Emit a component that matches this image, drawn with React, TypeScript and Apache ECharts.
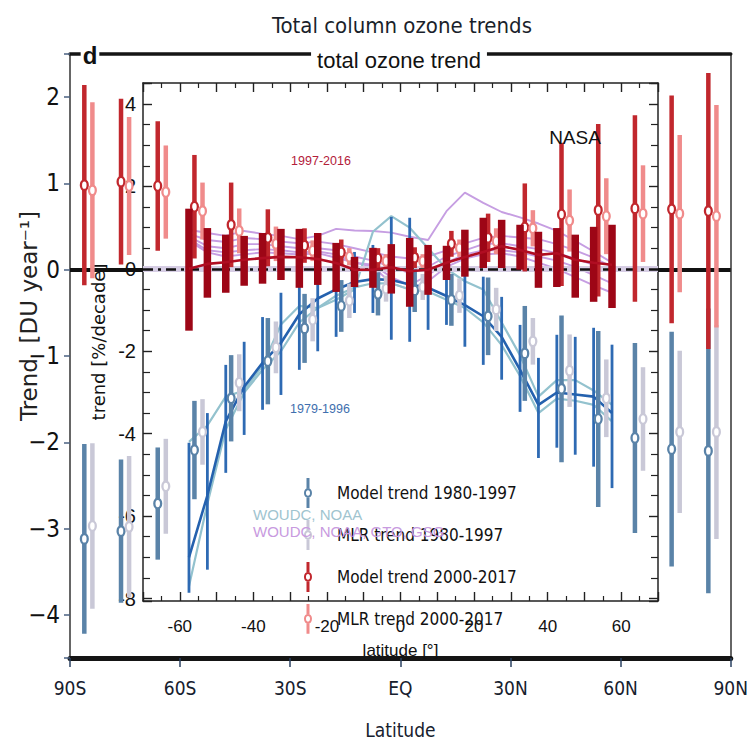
import React, { useEffect, useRef } from "react";
import * as echarts from "echarts";

// ---------- Outer chart data (DU / year) ----------
const OUTER_LATS = [-85, -75, -65, -55, -45, -35, -25, -15, -5, 5, 15, 25, 35, 45, 55, 65, 75, 85];
const MODEL_8097 = [-3.12, -3.03, -2.71, -2.09, -1.49, -1.06, -0.68, -0.42, -0.28, -0.24, -0.35, -0.54, -0.97, -1.38, -1.73, -1.95, -2.08, -2.1];
const MODEL_8097_ERR = [1.1, 0.83, 0.65, 0.57, 0.5, 0.5, 0.4, 0.3, 0.25, 0.25, 0.3, 0.45, 0.55, 0.85, 1.02, 1.1, 1.36, 1.65];
const MLR_8097 = [-2.97, -2.98, -2.51, -1.88, -1.31, -0.9, -0.58, -0.36, -0.22, -0.2, -0.3, -0.46, -0.83, -1.17, -1.49, -1.73, -1.88, -1.88];
const MLR_8097_ERR = [0.96, 0.82, 0.55, 0.38, 0.33, 0.3, 0.25, 0.2, 0.15, 0.15, 0.2, 0.25, 0.27, 0.42, 0.45, 0.6, 0.94, 1.24];
const MODEL_0017 = [0.98, 1.02, 0.97, 0.73, 0.52, 0.37, 0.28, 0.2, 0.13, 0.14, 0.3, 0.37, 0.49, 0.64, 0.69, 0.71, 0.7, 0.68];
const MODEL_0017_ERR = [1.16, 0.96, 0.75, 0.6, 0.49, 0.33, 0.2, 0.15, 0.12, 0.12, 0.15, 0.28, 0.51, 0.83, 1.0, 1.08, 1.32, 1.6];
const MLR_0017 = [0.92, 0.97, 0.9, 0.68, 0.45, 0.3, 0.22, 0.15, 0.1, 0.1, 0.25, 0.33, 0.48, 0.57, 0.62, 0.65, 0.65, 0.62];
const MLR_0017_ERR = [1.02, 0.8, 0.54, 0.33, 0.26, 0.2, 0.12, 0.1, 0.08, 0.08, 0.1, 0.15, 0.21, 0.36, 0.44, 0.56, 0.91, 1.29];

const OUTER_X_TICKS = [-90, -60, -30, 0, 30, 60, 90];
const OUTER_X_LABELS = ["90S", "60S", "30S", "EQ", "30N", "60N", "90N"];

// ---------- Inset data (% / decade) ----------
const INSET_LATS = [-57.5, -52.5, -47.5, -42.5, -37.5, -32.5, -27.5, -22.5, -17.5, -12.5, -7.5, -2.5, 2.5, 7.5, 12.5, 17.5, 22.5, 27.5, 32.5, 37.5, 42.5, 47.5, 52.5, 57.5];
const NASA_9716_HI = [1.46, 0.99, 0.83, 0.8, 0.87, 0.97, 0.97, 0.87, 0.63, 0.29, 0.51, 0.6, 0.75, 0.58, 0.56, 0.95, 1.24, 1.19, 1.07, 0.9, 0.99, 0.83, 1.02, 1.07];
const NASA_9716_LO = [-1.5, -0.7, -0.58, -0.41, -0.36, -0.27, -0.46, -0.39, -0.56, -0.44, -0.46, -0.6, -0.92, -0.63, -0.27, -0.19, 0.02, 0.02, -0.02, -0.46, -0.44, -0.7, -0.8, -0.95];
const TREND_9716 = [0.0, 0.12, 0.16, 0.22, 0.26, 0.29, 0.28, 0.24, 0.14, -0.02, -0.02, 0.04, -0.06, -0.02, 0.15, 0.29, 0.41, 0.55, 0.46, 0.34, 0.38, 0.22, 0.15, 0.1];
const NASA_7996_HI = [-4.22, -3.5, -2.33, -1.77, -1.17, -0.58, 0.02, 0.5, 0.58, 0.41, 0.58, 1.26, 1.24, 0.58, 0.17, 0.1, -0.19, -0.68, -1.36, -2.16, -1.6, -1.65, -1.43, -1.84];
const NASA_7996_LO = [-7.86, -7.3, -4.95, -4.03, -3.42, -3.06, -2.45, -2.0, -1.65, -1.07, -1.07, -1.72, -1.77, -1.48, -1.36, -1.89, -2.33, -2.69, -3.47, -4.59, -4.34, -4.51, -4.8, -5.32];
const TREND_7996 = [-7.0, -5.5, -3.7, -2.86, -2.28, -1.8, -1.1, -0.72, -0.5, -0.32, -0.25, -0.27, -0.38, -0.46, -0.66, -0.88, -1.15, -1.65, -2.45, -3.3, -3.0, -3.05, -3.1, -3.5];
const WOUDC_NOAA_A = [-4.2, -3.8, -3.1, -2.95, -2.35, -1.35, -0.9, -0.95, -0.75, -0.5, 0.9, 1.28, 1.0, 0.5, 0.0, -0.3, -0.5, -1.3, -2.1, -3.1, -2.7, -2.7, -2.95, -3.3];
const WOUDC_NOAA_B = [-7.7, -5.7, -3.9, -3.0, -2.45, -2.0, -1.3, -0.95, -0.65, -0.45, -0.35, -0.35, -0.5, -0.55, -0.75, -0.95, -1.3, -1.85, -2.6, -3.5, -3.15, -3.2, -3.3, -3.7];
const GROUND_A = [0.95, 0.87, 0.8, 0.92, 0.85, 0.8, 0.72, 0.8, 0.97, 0.93, 0.92, 0.88, 0.78, 0.7, 1.4, 1.85, 1.6, 1.38, 1.25, 1.1, 0.92, 0.68, 0.42, 0.15];
const GROUND_B = [0.85, 0.7, 0.65, 0.75, 0.72, 0.66, 0.62, 0.66, 0.6, 0.5, 0.4, 0.3, 0.25, 0.3, 0.45, 0.62, 0.75, 0.8, 0.76, 0.72, 0.6, 0.45, 0.27, 0.05];
const GROUND_C = [0.78, 0.55, 0.5, 0.6, 0.6, 0.55, 0.5, 0.5, 0.45, 0.3, 0.2, 0.05, -0.1, 0.05, 0.3, 0.45, 0.6, 0.62, 0.55, 0.48, 0.38, 0.25, 0.1, -0.05];
const GROUND_D = [0.72, 0.45, 0.4, 0.45, 0.48, 0.45, 0.4, 0.42, 0.35, 0.15, 0.1, -0.2, -0.4, -0.15, 0.15, 0.35, 0.45, 0.45, 0.4, 0.3, 0.2, 0.05, -0.15, -0.35];
const GROUND_E = [0.68, 0.4, 0.3, 0.35, 0.4, 0.38, 0.35, 0.38, 0.27, 0.15, 0.05, -0.35, -0.5, -0.3, 0.05, 0.25, 0.35, 0.38, 0.3, 0.15, 0.0, -0.2, -0.4, -0.58];

const LEGEND_NAMES = ["Model trend 1980-1997", "MLR trend 1980-1997", "Model trend 2000-2017", "MLR trend 2000-2017"];

const NARROW = "'Liberation Sans Narrow','DejaVu Sans Condensed','Arial Narrow','Liberation Sans',sans-serif";
const SANS = "'Liberation Sans',Arial,sans-serif";

const C_BLUE = "#5a83a8";
const C_GREY = "#c9c8d7";
const C_RED = "#c1272d";
const C_PINK = "#f08b8b";

const LEGEND_ICON =
  "path://M4.5,0 h3 v10 h-3 z M4.5,20 h3 v10 h-3 z M6,10 A4,5 0 0,1 6,20 A4,5 0 0,1 6,10 Z M6,12.2 A2,2.8 0 0,0 6,17.8 A2,2.8 0 0,0 6,12.2 Z M2,15 h0.01 z M10,15 h0.01 z";

function errorBars(name: string, means: number[], errs: number[], offset: number, color: string, z: number) {
  return {
    type: "custom",
    name,
    xAxisIndex: 0,
    yAxisIndex: 0,
    z,
    itemStyle: { color },
    data: OUTER_LATS.map((lat, i) => [lat + offset, means[i], errs[i]]),
    encode: { x: 0, y: 1 },
    renderItem: (_p: any, api: any) => {
      const x = api.value(0);
      const m = api.value(1);
      const e = api.value(2);
      const top = api.coord([x, m + e]);
      const bot = api.coord([x, m - e]);
      const c = api.coord([x, m]);
      return {
        type: "group",
        children: [
          { type: "line", shape: { x1: top[0], y1: top[1], x2: bot[0], y2: bot[1] }, style: { stroke: color, lineWidth: 4.5 } },
          { type: "ellipse", shape: { cx: c[0], cy: c[1], rx: 3.4, ry: 4.8 }, style: { fill: "#fff", stroke: color, lineWidth: 2.3 } },
        ],
      };
    },
  };
}

function insetRange(name: string, lo: number[], hi: number[], color: string, width: number, z: number) {
  return {
    type: "custom",
    name,
    xAxisIndex: 2,
    yAxisIndex: 2,
    z,
    clip: true,
    data: INSET_LATS.map((lat, i) => [lat, lo[i], hi[i]]),
    encode: { x: 0, y: [1, 2] },
    renderItem: (_p: any, api: any) => {
      const x = api.value(0);
      const a = api.coord([x, api.value(2)]);
      const b = api.coord([x, api.value(1)]);
      return {
        type: "rect",
        shape: { x: a[0] - width / 2, y: a[1], width, height: b[1] - a[1] },
        style: { fill: color },
      };
    },
  };
}

function insetLine(name: string, vals: number[], color: string, width: number, z: number, extra: any = {}) {
  return {
    type: "line",
    name,
    xAxisIndex: 2,
    yAxisIndex: 2,
    z,
    symbol: "none",
    silent: true,
    data: INSET_LATS.map((lat, i) => [lat, vals[i]]),
    lineStyle: { color, width },
    itemStyle: { color },
    ...extra,
  };
}

export default function App() {
  const ref = useRef<HTMLDivElement>(null);
  useEffect(() => {
    document.body.style.margin = "0";
    const chart = echarts.init(ref.current!, null, { renderer: "svg" });
    const isInt = (v: number) => Math.abs(v - Math.round(v)) < 1e-6;
    const option: any = {
      animation: false,
      backgroundColor: "#fff",
      grid: [
        { left: 70, top: 54, width: 666, height: 604, containLabel: false },
        { left: 143, top: 83, width: 515, height: 518, containLabel: false },
      ],
      legend: {
        data: LEGEND_NAMES,
        orient: "vertical",
        left: 299,
        top: 473,
        itemWidth: 8,
        itemHeight: 30,
        itemGap: 12,
        icon: LEGEND_ICON,
        selectedMode: false,
        textStyle: { fontFamily: NARROW, fontSize: 17, color: "#111", padding: [0, 0, 0, 20] },
        z: 20,
      },
      xAxis: [
        {
          gridIndex: 0, type: "value", min: -90, max: 90, interval: 30, position: "bottom",
          axisLine: { onZero: false, lineStyle: { color: "#151515", width: 5 } },
          axisTick: { length: 9, lineStyle: { color: "#2a4060", width: 1.5 } },
          axisLabel: {
            margin: 20, fontFamily: NARROW, fontSize: 19, color: "#16202e",
            formatter: (v: number) => {
              const i = OUTER_X_TICKS.indexOf(Math.round(v));
              return i >= 0 ? OUTER_X_LABELS[i] : "";
            },
          },
          splitLine: { show: false },
          name: "Latitude", nameLocation: "middle", nameGap: 62,
          nameTextStyle: { fontFamily: NARROW, fontSize: 19, color: "#16202e" },
        },
        {
          gridIndex: 0, type: "value", min: -90, max: 90, position: "top",
          axisLine: { onZero: false, lineStyle: { color: "#151515", width: 3.5 } },
          axisTick: { show: false }, axisLabel: { show: false }, splitLine: { show: false },
        },
        {
          gridIndex: 1, type: "value", min: -70, max: 70, interval: 10, position: "bottom",
          axisLine: { onZero: false, lineStyle: { color: "#222", width: 1.5 } },
          axisTick: { inside: true, length: 9, lineStyle: { color: "#222", width: 1.4 } },
          minorTick: { show: true, splitNumber: 2, length: 5, lineStyle: { color: "#222", width: 1.2 } },
          axisLabel: {
            margin: 17, fontFamily: SANS, fontSize: 17, color: "#111",
            formatter: (v: number) => (Math.round(v) % 20 === 0 && Math.abs(v) <= 60 ? String(Math.round(v)) : ""),
          },
          splitLine: { show: false },
          name: "latitude [°]", nameLocation: "middle", nameGap: 41,
          nameTextStyle: { fontFamily: SANS, fontSize: 17, color: "#111" },
        },
        {
          gridIndex: 1, type: "value", min: -70, max: 70, interval: 10, position: "top",
          axisLine: { onZero: false, lineStyle: { color: "#222", width: 1.5 } },
          axisTick: { inside: true, length: 9, lineStyle: { color: "#222", width: 1.4 } },
          minorTick: { show: true, splitNumber: 2, length: 5, lineStyle: { color: "#222", width: 1.2 } },
          axisLabel: { show: false }, splitLine: { show: false },
        },
      ],
      yAxis: [
        {
          gridIndex: 0, type: "value", min: -4.5, max: 2.5, splitNumber: 7, position: "left",
          axisLine: { onZero: false, lineStyle: { color: "#333", width: 1.5 } },
          axisTick: { length: 6, lineStyle: { color: "#4a6080", width: 1.5 } },
          axisLabel: {
            margin: 10, fontFamily: NARROW, fontSize: 24, color: "#111",
            formatter: (v: number) => (isInt(v) ? (v < 0 ? "\u2212" + Math.abs(Math.round(v)) : String(Math.round(v))) : ""),
          },
          splitLine: { show: false },
        },
        {
          gridIndex: 0, type: "value", min: -4.5, max: 2.5, position: "right",
          axisLine: { show: true, onZero: false, lineStyle: { color: "#333", width: 1.5 } },
          axisTick: { show: false }, axisLabel: { show: false }, splitLine: { show: false },
        },
        {
          gridIndex: 1, type: "value", min: -8.06, max: 4.51, splitNumber: 6, position: "left",
          axisLine: { onZero: false, lineStyle: { color: "#222", width: 1.5 } },
          axisTick: { inside: true, length: 9, lineStyle: { color: "#222", width: 1.4 } },
          minorTick: { show: true, splitNumber: 4, length: 7, lineStyle: { color: "#222", width: 1.2 } },
          axisLabel: {
            margin: 7, fontFamily: SANS, fontSize: 20, color: "#111",
            formatter: (v: number) => (isInt(v) ? String(Math.round(v)) : ""),
          },
          splitLine: { show: false },
          name: "trend [%/decade]", nameLocation: "middle", nameGap: 31,
          nameTextStyle: { fontFamily: "'DejaVu Sans',sans-serif", fontSize: 18, color: "#111" },
        },
        {
          gridIndex: 1, type: "value", min: -8.06, max: 4.51, splitNumber: 6, position: "right",
          axisLine: { show: true, onZero: false, lineStyle: { color: "#222", width: 1.5 } },
          axisTick: { show: true, inside: true, length: 9, lineStyle: { color: "#222", width: 1.4 } },
          minorTick: { show: true, splitNumber: 4, length: 7, lineStyle: { color: "#222", width: 1.2 } },
          axisLabel: { show: false }, splitLine: { show: false },
        },
      ],
      graphic: [
        {
          type: "text", x: 29, y: 316, rotation: Math.PI / 2, z: 50,
          style: { text: "Trend  [DU year\u207B\u00B9]", font: "23px 'DejaVu Sans', sans-serif", fill: "#222", align: "center", verticalAlign: "middle" },
        },
        {
          type: "text", x: 90, y: 55, z: 50,
          style: { text: "d", font: "bold 24px 'Liberation Sans', Arial, sans-serif", fill: "#111", align: "center", verticalAlign: "middle", backgroundColor: "#fff", padding: [0, 2] },
        },
        {
          type: "text", x: 399, y: 60, z: 50,
          style: { text: "total ozone trend", font: "22px 'Liberation Sans', Arial, sans-serif", fill: "#111", align: "center", verticalAlign: "middle", backgroundColor: "#fff", padding: [0, 6] },
        },
        {
          type: "text", x: 402, y: 25, z: 50,
          style: { text: "Total column ozone trends", font: "22px " + NARROW, fill: "#1a1f2b", align: "center", verticalAlign: "middle" },
        },
        {
          type: "text", x: 321, y: 161, z: 50,
          style: { text: "1997-2016", font: "12.5px 'Liberation Sans', Arial, sans-serif", fill: "#b3203a", align: "center", verticalAlign: "middle" },
        },
        {
          type: "text", x: 320, y: 409, z: 50,
          style: { text: "1979-1996", font: "12.5px 'Liberation Sans', Arial, sans-serif", fill: "#3f6fae", align: "center", verticalAlign: "middle" },
        },
        {
          type: "text", x: 575, y: 137, z: 50,
          style: { text: "NASA", font: "19px 'Liberation Sans', Arial, sans-serif", fill: "#111", align: "center", verticalAlign: "middle" },
        },
        {
          type: "text", x: 253, y: 514, z: 50,
          style: { text: "WOUDC, NOAA", font: "15px 'Liberation Sans', Arial, sans-serif", fill: "#9fc4cf", align: "left", verticalAlign: "middle" },
        },
        {
          type: "text", x: 253, y: 531, z: 50,
          style: { text: "WOUDC, NOAA, GTO, GSG", font: "15px 'Liberation Sans', Arial, sans-serif", fill: "#c89ae0", align: "left", verticalAlign: "middle" },
        },
      ],
      series: [
        {
          type: "line", name: "outer-zero", xAxisIndex: 0, yAxisIndex: 0, data: [], silent: true, z: 1,
          markLine: {
            silent: true, symbol: "none", label: { show: false },
            lineStyle: { color: "#111", width: 4, type: "solid" },
            data: [
              [{ coord: [-90, 0] }, { coord: [-70, 0] }],
              [{ coord: [70, 0] }, { coord: [90, 0] }],
            ],
          },
        },
        insetLine("ground-a", GROUND_A, "#c69ee2", 1.9, 2, {
          markLine: {
            silent: true, symbol: "none", label: { show: false },
            lineStyle: { color: "#d6cde4", width: 6, type: "solid" },
            data: [{ yAxis: 0 }],
          },
        }),
        insetLine("ground-b", GROUND_B, "#c69ee2", 1.9, 2),
        insetLine("ground-c", GROUND_C, "#c69ee2", 1.9, 2),
        insetLine("ground-d", GROUND_D, "#c69ee2", 1.9, 2),
        insetLine("ground-e", GROUND_E, "#c69ee2", 1.9, 2),
        insetLine("woudc-a", WOUDC_NOAA_A, "#93c2ce", 2.2, 3),
        insetLine("woudc-b", WOUDC_NOAA_B, "#93c2ce", 2.2, 3),
        insetRange("nasa-7996", NASA_7996_LO, NASA_7996_HI, "#2e6ab3", 2.8, 4),
        insetLine("trend-7996", TREND_7996, "#2461ae", 2.6, 5),
        errorBars(LEGEND_NAMES[0], MODEL_8097, MODEL_8097_ERR, -1.1, C_BLUE, 6),
        errorBars(LEGEND_NAMES[1], MLR_8097, MLR_8097_ERR, 1.1, C_GREY, 6),
        errorBars(LEGEND_NAMES[2], MODEL_0017, MODEL_0017_ERR, -1.1, C_RED, 7),
        errorBars(LEGEND_NAMES[3], MLR_0017, MLR_0017_ERR, 1.1, C_PINK, 7),
        insetRange("nasa-9716", NASA_9716_LO, NASA_9716_HI, "#9d0616", 7.5, 8),
        insetLine("trend-9716", TREND_9716, "#b00d22", 2.6, 9, {
          markLine: {
            silent: true, symbol: "none", label: { show: false },
            lineStyle: { color: "#111", width: 2.6, type: [10, 5, 3, 5] },
            data: [{ yAxis: 0 }],
          },
        }),
      ],
    };
    chart.setOption(option);
    return () => chart.dispose();
  }, []);
  return <div ref={ref} style={{ width: 751, height: 745 }} />;
}
